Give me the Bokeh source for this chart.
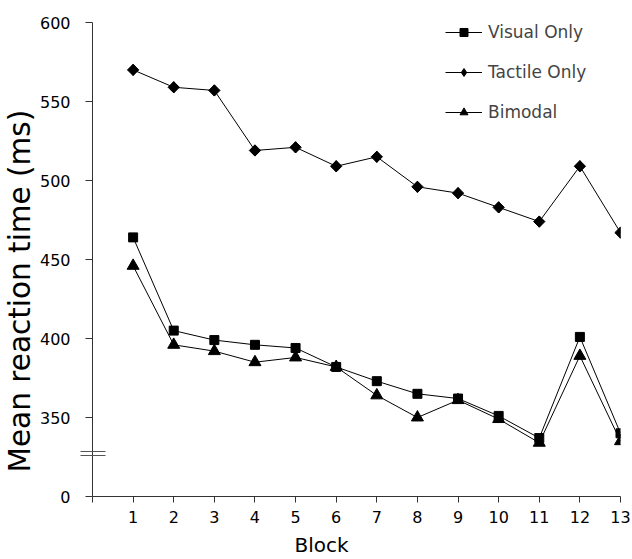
import math
from bokeh.plotting import figure
from bokeh.models import Range1d, FixedTicker, Legend, LegendItem, Title
from bokeh.embed import file_html
from bokeh.resources import INLINE

blocks = [1, 2, 3, 4, 5, 6, 7, 8, 9, 10, 11, 12, 13]
visual = [464, 405, 399, 396, 394, 382, 373, 365, 362, 351, 337, 401, 340]
tactile = [570, 559, 557, 519, 521, 509, 515, 496, 492, 483, 474, 509, 467]
bimodal = [446, 396, 392, 385, 388, 382, 364, 350, 361, 349, 334, 389, 335]

y_ticks = [300, 350, 400, 450, 500, 550, 600]
y_tick_labels = {300: "0"}
y_break = [326, 328.5]
x_ticks = [0] + blocks
series_names = ["Visual Only", "Tactile Only", "Bimodal"]

FONT = "DejaVu Sans"

p = figure(width=632, height=559, output_backend="svg", toolbar_location=None,
           x_range=Range1d(0, 13), y_range=Range1d(300, 600),
           min_border_left=92, min_border_top=22, min_border_right=12, min_border_bottom=63)
p.outline_line_color = None
p.grid.visible = False
p.background_fill_color = "white"

# axes
p.xaxis.ticker = FixedTicker(ticks=x_ticks)
p.xaxis.major_label_overrides = {0: ""}
p.yaxis.ticker = FixedTicker(ticks=y_ticks, minor_ticks=y_break)
p.yaxis.major_label_overrides = y_tick_labels
for ax in (p.xaxis, p.yaxis):
    ax.axis_line_color = "#333333"
    ax.major_tick_line_color = "#333333"
    ax.major_tick_in = 0
    ax.major_label_text_font = FONT
    ax.major_label_text_font_size = "16px"
    ax.major_label_text_color = "black"
p.xaxis.minor_tick_line_color = None
p.xaxis.major_tick_out = 6
p.yaxis.major_tick_out = 7
# axis-break marks drawn as minor ticks crossing the y axis
p.yaxis.minor_tick_line_color = "#555555"
p.yaxis.minor_tick_out = 12
p.yaxis.minor_tick_in = 13
p.xaxis.major_label_standoff = 8
p.yaxis.major_label_standoff = 10

# x axis title (trailing no-break spaces shift the centred word left, as in the original)
p.xaxis.axis_label = "Block" + "\u00a0" * 11
p.xaxis.axis_label_text_font = FONT
p.xaxis.axis_label_text_font_size = "20px"
p.xaxis.axis_label_text_font_style = "normal"
p.xaxis.axis_label_text_color = "black"
p.xaxis.axis_label_standoff = 7

# series
l1 = p.line(blocks, visual, line_color="black", line_width=1)
s1 = p.scatter(blocks, visual, marker="square", size=9, color="black")
l2 = p.line(blocks, tactile, line_color="black", line_width=1)
# diamond used for the legend; it sits fully inside the rotated squares drawn on top
s2_leg = p.scatter(blocks, tactile, marker="diamond", size=11, color="black")
s2 = p.scatter(blocks, tactile, marker="square", angle=math.pi / 4, size=8, color="black")
l3 = p.line(blocks, bimodal, line_color="black", line_width=1)
s3 = p.scatter(blocks, bimodal, marker="triangle", size=12, color="black")

legend = Legend(items=[
    LegendItem(label=series_names[0], renderers=[l1, s1]),
    LegendItem(label=series_names[1], renderers=[l2, s2_leg]),
    LegendItem(label=series_names[2], renderers=[l3, s3]),
], location=(353, 374), padding=0, margin=0, spacing=20,
    glyph_width=37, glyph_height=20, label_height=20, label_standoff=6,
    label_text_font=FONT, label_text_font_size="17px",
    border_line_color=None, background_fill_alpha=0)
p.add_layout(legend)

# y axis title
p.add_layout(Title(text="Mean reaction time (ms)", align="left", offset=24,
                   text_font=FONT, text_font_size="29.5px", text_font_style="normal",
                   text_color="black", standoff=0), "left")

open("out.html", "w").write(file_html(p, INLINE))
